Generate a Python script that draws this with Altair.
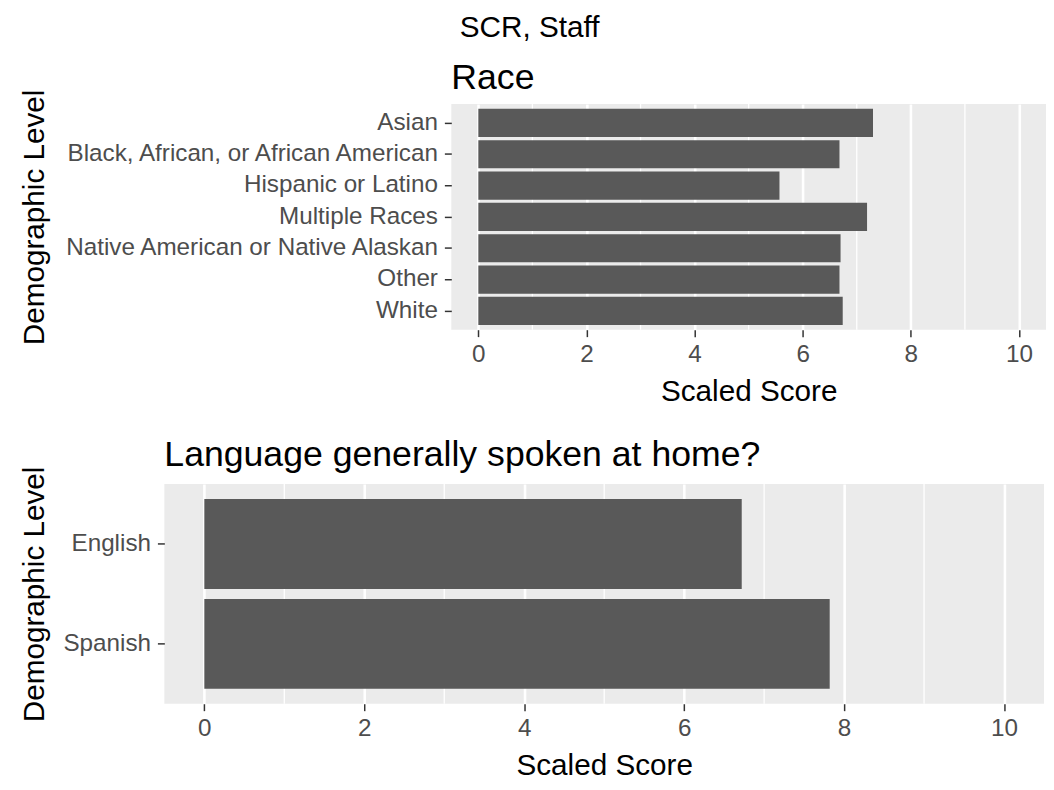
import altair as alt
import pandas as pd

race_levels = [
    "Asian",
    "Black, African, or African American",
    "Hispanic or Latino",
    "Multiple Races",
    "Native American or Native Alaskan",
    "Other",
    "White",
]
race_scores = [7.30, 6.68, 5.57, 7.19, 6.70, 6.68, 6.74]

lang_levels = ["English", "Spanish"]
lang_scores = [6.72, 7.82]

major_breaks = [0, 2, 4, 6, 8, 10]
minor_breaks = [1, 3, 5, 7, 9]
x_limits = [-0.5, 10.5]

FONT = "Liberation Sans"
LABEL_SIZE = 24.5
TITLE_SIZE = 30


def panel(levels, scores, title, width, height):
    df = pd.DataFrame({"level": levels, "score": scores})
    minor = pd.DataFrame({"score": minor_breaks})
    x_scale = alt.Scale(domain=x_limits, nice=False, zero=False)
    x_axis = alt.Axis(
        values=major_breaks,
        title="Scaled Score",
        format="d",
        labelPadding=6,
        titlePadding=11,
    )
    y_axis = alt.Axis(
        title="Demographic Level",
        bandPosition=0.5,
        labelPadding=7,
        titlePadding=14,
        labelLimit=600,
        maxExtent=600,
    )
    grid = alt.Chart(minor).mark_rule(color="white", strokeWidth=1.3).encode(
        x=alt.X("score:Q", scale=x_scale, axis=x_axis)
    )
    bars = alt.Chart(df).mark_bar(color="#595959").encode(
        x=alt.X("score:Q", scale=x_scale, axis=x_axis),
        y=alt.Y(
            "level:N",
            sort=levels,
            scale=alt.Scale(paddingInner=0.1, paddingOuter=0.15),
            axis=y_axis,
        ),
    )
    return alt.layer(grid, bars).properties(
        width=width,
        height=height,
        title=alt.TitleParams(
            title,
            anchor="start",
            frame="group",
            fontSize=36,
            fontWeight="normal",
            color="black",
            offset=-8,
        ),
    )


def spacer():
    return (
        alt.Chart(pd.DataFrame({"v": [0]}))
        .mark_point(opacity=0)
        .encode(x=alt.value(0), y=alt.value(0))
        .properties(width=1, height=1, view=alt.ViewBackground(fill=None, stroke=None))
    )


top = alt.hconcat(spacer(), panel(race_levels, race_scores, "Race", 601, 228), spacing=0)
bottom = alt.hconcat(
    spacer(),
    panel(lang_levels, lang_scores, "Language generally spoken at home?", 889, 222),
    spacing=0,
)

chart = (
    alt.vconcat(top, bottom, spacing=30)
    .properties(
        title=alt.TitleParams(
            "SCR, Staff",
            anchor="middle",
            fontSize=30,
            fontWeight="normal",
            color="black",
            offset=18,
        ),
        padding={"left": 5, "top": 0, "right": 0, "bottom": 0},
    )
    .configure(font=FONT)
    .configure_view(fill="#EBEBEB", stroke=None)
    .configure_axis(
        labelFont=FONT,
        titleFont=FONT,
        labelFontSize=LABEL_SIZE,
        titleFontSize=TITLE_SIZE,
        labelColor="#4D4D4D",
        titleColor="black",
        titleFontWeight="normal",
        tickColor="#333333",
        tickSize=7,
        tickWidth=1.5,
        domain=False,
        gridColor="white",
        gridWidth=2.6,
    )
    .configure_title(font=FONT)
)

chart.save("out.html", embed_options={"renderer": "svg", "actions": False})
